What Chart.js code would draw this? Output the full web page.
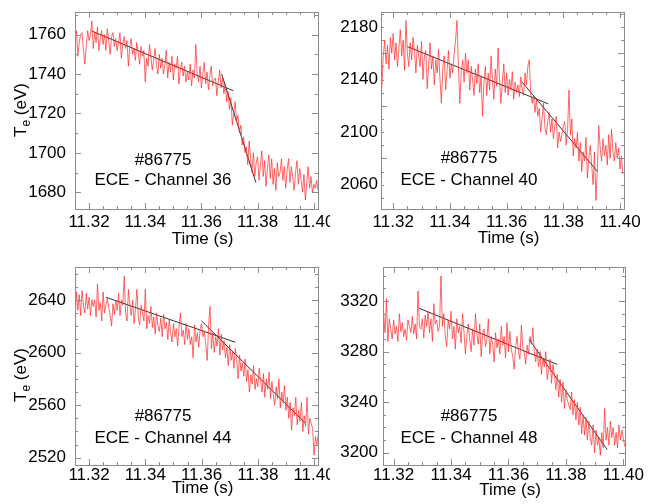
<!DOCTYPE html>
<html lang="en">
<head>
  <meta charset="UTF-8">
  <title>ECE Te channels - #86775</title>
  <script src="https://cdn.jsdelivr.net/npm/chart.js@4.4.0/dist/chart.umd.min.js"></script>
  <style>
    * { margin: 0; padding: 0; }
    body { background: #fff; }
    .wrap { position: relative; width: 657px; height: 504px; overflow: hidden; }
    canvas { position: absolute; }
  </style>
</head>
<body>
  <div class="wrap">
    <canvas id="ch36" width="330" height="250" style="left:0;top:0"></canvas>
    <canvas id="ch40" width="327" height="250" style="left:330px;top:0"></canvas>
    <canvas id="ch44" width="330" height="254" style="left:0;top:250px"></canvas>
    <canvas id="ch48" width="327" height="254" style="left:330px;top:250px"></canvas>
  </div>

  <script>
    // sampling step of the ECE traces (s)
    const dt = 0.0005;
    const xMajorTicks = [11.32, 11.34, 11.36, 11.38, 11.40];

    // Channel 36
    const t0_36 = 11.315;
    const te36 = [
      1758, 1762, 1749, 1756, 1760, 1761, 1752, 1745, 1754, 1762,
      1757, 1760, 1767, 1753, 1761, 1756, 1764, 1752, 1758, 1762,
      1755, 1760, 1752, 1763, 1757, 1750, 1759, 1761, 1754, 1758,
      1752, 1756, 1761, 1748, 1755, 1759, 1753, 1757, 1744, 1754,
      1758, 1750, 1753, 1747, 1756, 1751, 1745, 1754, 1749, 1752,
      1736, 1748, 1744, 1755, 1749, 1742, 1747, 1753, 1745, 1740,
      1750, 1743, 1748, 1740, 1745, 1752, 1738, 1746, 1741, 1749,
      1737, 1745, 1743, 1749, 1735, 1742, 1746, 1739, 1744, 1736,
      1741, 1737, 1745, 1734, 1742, 1738, 1755, 1740, 1736, 1744,
      1733, 1740, 1746, 1735, 1741, 1732, 1739, 1744, 1734, 1737,
      1738, 1729, 1736, 1742, 1733, 1738, 1730, 1735, 1726, 1731,
      1722, 1728, 1714, 1720, 1726, 1716, 1719, 1710, 1714, 1704,
      1708, 1700, 1703, 1694, 1706, 1697, 1690, 1700, 1688, 1695,
      1698, 1686, 1694, 1701, 1688, 1696, 1683, 1692, 1699, 1687,
      1697, 1684, 1692, 1681, 1695, 1688, 1690, 1697, 1686, 1693,
      1682, 1691, 1697, 1685, 1693, 1688, 1681, 1690, 1696, 1684,
      1692, 1686, 1680, 1689, 1676, 1685, 1693, 1682, 1688, 1680,
      1684, 1682, 1686, 1681
    ];
    const fitA36T = [11.3209, 11.3714], fitA36 = [1761.9, 1731.5];
    const fitB36T = [11.3672, 11.3794], fitB36 = [1740.0, 1684.9];
    const yTicks36 = [1680, 1700, 1720, 1740, 1760];

    // Channel 40
    const t0_40 = 11.316;
    const te40 = [
      2134, 2158, 2170, 2152, 2166, 2148, 2172, 2160, 2175, 2155,
      2168, 2150, 2163, 2178, 2158, 2170, 2147, 2185, 2160, 2150,
      2168, 2155, 2172, 2162, 2145, 2166, 2158, 2150, 2169, 2140,
      2158, 2162, 2133, 2150, 2168, 2148, 2158, 2136, 2155, 2145,
      2163, 2140, 2122, 2150, 2158, 2132, 2147, 2162, 2141, 2152,
      2145, 2160, 2170, 2185, 2150, 2122, 2146, 2155, 2138, 2160,
      2145, 2155, 2132, 2150, 2140, 2128, 2148, 2137, 2152, 2130,
      2143, 2112, 2138, 2150, 2128, 2145, 2132, 2158, 2140, 2125,
      2148, 2135, 2164, 2140, 2122, 2138, 2152, 2130, 2145, 2128,
      2140, 2132, 2146, 2125, 2138, 2130, 2136, 2127, 2142, 2133,
      2128, 2145, 2136, 2150, 2155, 2130, 2122, 2128, 2115, 2125,
      2112, 2118, 2100, 2110, 2122, 2104, 2098, 2108, 2115, 2100,
      2110, 2095, 2105, 2112, 2088, 2100, 2093, 2098, 2105, 2108,
      2090, 2102, 2132, 2098, 2110, 2082, 2095, 2088, 2100, 2078,
      2092, 2070, 2085, 2078, 2096, 2065, 2080, 2090, 2075, 2060,
      2085, 2048, 2072, 2105, 2088, 2078, 2095, 2082, 2090, 2075,
      2098, 2080, 2102, 2085, 2078, 2092, 2080, 2088, 2072, 2082,
      2068
    ];
    const fitA40T = [11.3250, 11.3747], fitA40 = [2165.1, 2121.5];
    const fitB40T = [11.3655, 11.3920], fitB40 = [2138.0, 2070.1];
    const yTicks40 = [2060, 2100, 2140, 2180];

    // Channel 44
    const t0_44 = 11.315;
    const te44 = [
      2625, 2646, 2632, 2644, 2628, 2647, 2636, 2630, 2645, 2633,
      2642, 2628, 2640, 2635, 2640, 2627, 2652, 2632, 2638, 2624,
      2646, 2630, 2636, 2641, 2634, 2628, 2620, 2637, 2629, 2640,
      2632, 2645, 2628, 2640, 2636, 2658, 2630, 2624, 2648, 2636,
      2628, 2640, 2622, 2633, 2648, 2626, 2621, 2636, 2630, 2624,
      2648, 2618, 2628, 2622, 2635, 2619, 2627, 2614, 2630, 2620,
      2616, 2626, 2612, 2629, 2618, 2623, 2610, 2625, 2615, 2608,
      2622, 2612, 2618, 2605, 2620, 2630, 2612, 2617, 2606, 2622,
      2610, 2618, 2606, 2612, 2596, 2621, 2608, 2615, 2604, 2618,
      2622, 2612, 2616, 2606, 2594, 2620, 2635, 2603, 2615, 2600,
      2612, 2605, 2618, 2598, 2614, 2602, 2609, 2596, 2604, 2590,
      2606, 2594, 2600, 2588, 2603, 2595, 2580, 2598, 2586, 2592,
      2582, 2595, 2578, 2587, 2570, 2583, 2576, 2590, 2572, 2580,
      2574, 2588, 2578, 2570, 2584, 2566, 2580, 2572, 2585, 2565,
      2578, 2568, 2560, 2574, 2565, 2580, 2558, 2570, 2562, 2575,
      2556, 2566, 2550, 2562, 2541, 2558, 2552, 2566, 2545, 2556,
      2548, 2562, 2540, 2552, 2544, 2566, 2538, 2550, 2546, 2542,
      2522, 2536, 2530, 2538
    ];
    const fitA44T = [11.3260, 11.3720], fitA44 = [2642.0, 2607.8];
    const fitB44T = [11.3599, 11.3969], fitB44 = [2624.2, 2546.3];
    const yTicks44 = [2520, 2560, 2600, 2640];

    // Channel 48
    const t0_48 = 11.3165;
    const te48 = [
      3312, 3295, 3322, 3288, 3306, 3298, 3290, 3305, 3294, 3300,
      3288, 3310, 3296, 3303, 3292, 3298, 3289, 3305, 3300, 3295,
      3308, 3294, 3302, 3290, 3328, 3300, 3298, 3306, 3291, 3309,
      3300, 3312, 3295, 3306, 3288, 3318, 3302, 3305, 3296, 3300,
      3340, 3300, 3310, 3292, 3284, 3305, 3298, 3312, 3290, 3300,
      3282, 3306, 3295, 3300, 3287, 3310, 3296, 3278, 3292, 3302,
      3290, 3280, 3298, 3285, 3310, 3294, 3286, 3302, 3276, 3294,
      3298, 3284, 3290, 3306, 3278, 3292, 3286, 3272, 3295, 3283,
      3290, 3278, 3300, 3285, 3292, 3275, 3303, 3280, 3296, 3282,
      3276, 3266, 3284, 3292, 3280, 3274, 3301, 3284, 3279, 3270,
      3285, 3278, 3292, 3286, 3299, 3280, 3272, 3282, 3268, 3280,
      3262, 3275, 3268, 3280, 3258, 3266, 3274, 3255, 3270, 3262,
      3250, 3262, 3244, 3258, 3240, 3256, 3235, 3250, 3242, 3238,
      3234, 3248, 3230, 3242, 3226, 3240, 3222, 3236, 3215, 3230,
      3214, 3228, 3210, 3225, 3212, 3206, 3222, 3200, 3218, 3206,
      3212, 3198, 3216, 3204, 3235, 3210, 3220, 3206, 3225, 3212,
      3220, 3206, 3216, 3204, 3222, 3210, 3218, 3212, 3205
    ];
    const fitA48T = [11.3289, 11.3770], fitA48 = [3314.3, 3269.9];
    const fitB48T = [11.3672, 11.3944], fitB48 = [3289.7, 3202.5];
    const yTicks48 = [3200, 3240, 3280, 3320];

    Chart.defaults.font.family = "'Liberation Sans', Arial, Helvetica, sans-serif";
    Chart.defaults.font.size = 17;
    Chart.defaults.color = '#000';

    const panels = [
      { id: 'ch36', channel: 36, t0: t0_36, te: te36, fa: [fitA36T, fitA36], fb: [fitB36T, fitB36], yTicks: yTicks36,
        xMin: 11.315, xMax: 11.4015, yMin: 1671.5, yMax: 1771.5, yMajor: 20,
        yAxisW: 75, padTop: 12, padRight: 12, xAxisH: 41, xPad: 3, yPad: 9,
        yTitle: [20, 110], textX: 163, textY: [160, 180], xTitleY: 239 },
      { id: 'ch40', channel: 40, t0: t0_40, te: te40, fa: [fitA40T, fitA40], fb: [fitB40T, fitB40], yTicks: yTicks40,
        xMin: 11.3157, xMax: 11.4014, yMin: 2041.5, yMax: 2191.4, yMajor: 40,
        yAxisW: 51, padTop: 12, padRight: 33, xAxisH: 41, xPad: 3, yPad: 3,
        yTitle: null, textX: 139, textY: [158, 180], xTitleY: 238 },
      { id: 'ch44', channel: 44, t0: t0_44, te: te44, fa: [fitA44T, fitA44], fb: [fitB44T, fitB44], yTicks: yTicks44,
        xMin: 11.315, xMax: 11.4014, yMin: 2514.5, yMax: 2665, yMajor: 40,
        yAxisW: 75, padTop: 17, padRight: 12, xAxisH: 39, xPad: 0, yPad: 9,
        yTitle: [20, 125], textX: 163, textY: [166, 188], xTitleY: 238 },
      { id: 'ch48', channel: 48, t0: t0_48, te: te48, fa: [fitA48T, fitA48], fb: [fitB48T, fitB48], yTicks: yTicks48,
        xMin: 11.3163, xMax: 11.4006, yMin: 3190.3, yMax: 3347, yMajor: 40,
        yAxisW: 53, padTop: 17, padRight: 32, xAxisH: 39, xPad: 0, yPad: 5,
        yTitle: null, textX: 139, textY: [166, 188], xTitleY: 240 }
    ];

    function decorPlugin(p) {
      return {
        id: 'decor',
        afterDatasetsDraw(chart) {
          const ctx = chart.ctx, a = chart.chartArea;
          const sx = chart.scales.x, sy = chart.scales.y;
          ctx.save();
          ctx.strokeStyle = '#8c8c8c';
          ctx.lineWidth = 1;
          ctx.beginPath();
          // x ticks every 5 ms, labelled every 20 ms
          for (let k = Math.ceil(p.xMin / 0.005 - 1e-6); k * 0.005 <= p.xMax + 1e-9; k++) {
            const len = k % 4 === 0 ? 6 : 3;
            const px = Math.round(sx.getPixelForValue(k * 0.005)) + 0.5;
            ctx.moveTo(px, a.bottom); ctx.lineTo(px, a.bottom - len);
            ctx.moveTo(px, a.top); ctx.lineTo(px, a.top + len);
          }
          // y ticks every 10 eV
          for (let v = Math.ceil(p.yMin / 10) * 10; v <= p.yMax; v += 10) {
            const len = v % p.yMajor === 0 ? 6 : 3;
            const py = Math.round(sy.getPixelForValue(v)) + 0.5;
            ctx.moveTo(a.left, py); ctx.lineTo(a.left + len, py);
            ctx.moveTo(a.right, py); ctx.lineTo(a.right - len, py);
          }
          ctx.stroke();
          ctx.strokeRect(Math.round(a.left) + 0.5, Math.round(a.top) + 0.5,
                         Math.round(a.right - a.left), Math.round(a.bottom - a.top));

          ctx.fillStyle = '#000';
          ctx.textAlign = 'center';
          ctx.textBaseline = 'middle';
          ctx.font = "17px 'Liberation Sans', Arial, sans-serif";
          ctx.fillText('#86775', p.textX + (a.left - p.yAxisW), p.textY[0]);
          ctx.fillText('ECE - Channel ' + p.channel, p.textX + (a.left - p.yAxisW), p.textY[1]);
          ctx.fillText('Time (s)', (a.left + a.right) / 2 + 6, p.xTitleY);

          if (p.yTitle) {
            ctx.translate(p.yTitle[0], p.yTitle[1]);
            ctx.rotate(-Math.PI / 2);
            ctx.textAlign = 'left';
            ctx.textBaseline = 'alphabetic';
            const big = "17px 'Liberation Sans', Arial, sans-serif";
            const small = "12px 'Liberation Sans', Arial, sans-serif";
            ctx.font = big; const wT = ctx.measureText('T').width;
            const wR = ctx.measureText(' (eV)').width;
            ctx.font = small; const wE = ctx.measureText('e').width;
            let x = -(wT + wE + wR) / 2;
            ctx.font = big; ctx.fillText('T', x, 6); x += wT;
            ctx.font = small; ctx.fillText('e', x, 10); x += wE;
            ctx.font = big; ctx.fillText(' (eV)', x, 6);
          }
          ctx.restore();
        }
      };
    }

    function makeChart(p) {
      const trace = p.te.map((v, i) => ({ x: p.t0 + i * dt, y: v }));
      const fitA = p.fa[0].map((t, i) => ({ x: t, y: p.fa[1][i] }));
      const fitB = p.fb[0].map((t, i) => ({ x: t, y: p.fb[1][i] }));
      const line = (data, color) => ({ data, showLine: true, borderColor: color, borderWidth: 1, pointRadius: 0, tension: 0 });

      new Chart(document.getElementById(p.id), {
        type: 'scatter',
        data: { datasets: [ line(trace, 'rgba(255,40,40,0.7)'), line(fitA, '#333'), line(fitB, '#333') ] },
        options: {
          responsive: false,
          animation: false,
          devicePixelRatio: 1,
          layout: { padding: { top: p.padTop, right: p.padRight, left: 0, bottom: 0 } },
          plugins: { legend: { display: false }, tooltip: { enabled: false } },
          scales: {
            x: {
              type: 'linear', min: p.xMin, max: p.xMax,
              grid: { display: false, drawTicks: false }, border: { display: false },
              afterBuildTicks: s => { s.ticks = xMajorTicks.map(v => ({ value: v })); },
              afterFit: s => { s.height = p.xAxisH; s.paddingLeft = 0; s.paddingRight = 0; },
              ticks: { padding: p.xPad, maxRotation: 0, autoSkip: false, callback: v => Number(v).toFixed(2) }
            },
            y: {
              type: 'linear', min: p.yMin, max: p.yMax,
              grid: { display: false, drawTicks: false }, border: { display: false },
              afterBuildTicks: s => { s.ticks = p.yTicks.map(v => ({ value: v })); },
              afterFit: s => { s.width = p.yAxisW; s.paddingTop = 0; s.paddingBottom = 0; },
              ticks: { padding: p.yPad, autoSkip: false, callback: v => String(v) }
            }
          }
        },
        plugins: [decorPlugin(p)]
      });
    }

    panels.forEach(makeChart);
  </script>
</body>
</html>
